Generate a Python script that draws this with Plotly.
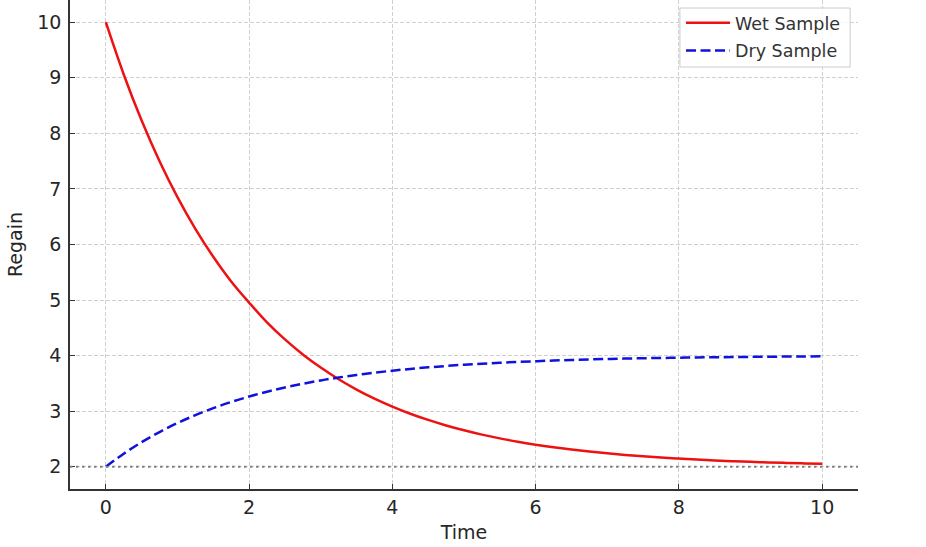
import plotly.graph_objects as go

time = [0, 0.25, 0.5, 0.75, 1, 1.25, 1.5, 1.75, 2, 2.25, 2.5, 2.75, 3, 3.25, 3.5, 3.75,
        4, 4.25, 4.5, 4.75, 5, 5.25, 5.5, 5.75, 6, 6.25, 6.5, 6.75, 7, 7.25, 7.5, 7.75,
        8, 8.25, 8.5, 8.75, 9, 9.25, 9.5, 9.75, 10]
wet = [10.000, 9.060, 8.230, 7.498, 6.852, 6.282, 5.779, 5.335, 4.955, 4.598, 4.292,
       4.022, 3.785, 3.575, 3.390, 3.227, 3.083, 2.955, 2.843, 2.744, 2.657, 2.579,
       2.511, 2.451, 2.398, 2.351, 2.310, 2.274, 2.242, 2.213, 2.188, 2.166, 2.147,
       2.129, 2.114, 2.101, 2.089, 2.078, 2.069, 2.061, 2.054]
dry = [2.000, 2.235, 2.442, 2.625, 2.787, 2.929, 3.055, 3.166, 3.264, 3.351, 3.427,
       3.494, 3.554, 3.606, 3.652, 3.693, 3.729, 3.761, 3.789, 3.814, 3.836, 3.855,
       3.872, 3.887, 3.900, 3.912, 3.922, 3.932, 3.940, 3.947, 3.953, 3.958, 3.963,
       3.968, 3.971, 3.975, 3.978, 3.980, 3.983, 3.985, 3.987]
baseline = 2
x_ticks = [0, 2, 4, 6, 8, 10]
y_ticks = [2, 3, 4, 5, 6, 7, 8, 9, 10]

font = "DejaVu Sans"
txt = "#262626"

fig = go.Figure()
fig.add_trace(go.Scatter(x=time, y=wet, mode="lines", name="Wet Sample", legendgroup="a",
                         line=dict(color="#ee1111", width=2.5, shape="spline")))
fig.add_trace(go.Scatter(x=time, y=dry, mode="lines", name="Dry Sample", legendgroup="b",
                         line=dict(color="#1111dd", width=2.5, dash="10px,4.5px",
                                   shape="spline")))
fig.add_hline(y=baseline, line=dict(color="#808080", width=2, dash="2.5px,3.5px"))

# legend frame
fig.add_shape(type="rect", xref="paper", yref="paper",
              x0=0.774, x1=0.990, y0=0.863, y1=0.9836, layer="above",
              fillcolor="rgba(255,255,255,0.8)", line=dict(color="#cccccc", width=1))

fig.update_layout(
    width=926, height=547,
    margin=dict(l=70, r=68, t=0, b=58),
    paper_bgcolor="white", plot_bgcolor="white",
    font=dict(family=font, color=txt, size=18),
    showlegend=True,
    legend=dict(x=0.7754, y=0.990, xanchor="left", yanchor="top",
                bgcolor="rgba(0,0,0,0)", borderwidth=0, itemwidth=44,
                traceorder="grouped", tracegroupgap=2,
                font=dict(size=17.5, color="#333333")),
)
fig.update_xaxes(range=[-0.5, 10.5], tickvals=x_ticks, ticks="inside", ticklen=5,
                 tickcolor="#333333", showline=True, linecolor="#333333", linewidth=1.5,
                 showgrid=True, gridcolor="#d0d0d0", griddash="4px,2px", gridwidth=1,
                 zeroline=False, tickfont=dict(size=19),
                 title=dict(text="Time", font=dict(size=19), standoff=9))
fig.update_yaxes(range=[1.6, 10.4], tickvals=y_ticks, ticks="inside", ticklen=5,
                 tickcolor="#333333", showline=True, linecolor="#333333", linewidth=1.5,
                 showgrid=True, gridcolor="#d0d0d0", griddash="4px,2px", gridwidth=1,
                 zeroline=False, tickfont=dict(size=19), ticklabelstandoff=3,
                 title=dict(text="Regain", font=dict(size=19), standoff=10))

fig.write_html("out.html", config={"displayModeBar": False},
               post_script="document.body.style.margin='0';")
